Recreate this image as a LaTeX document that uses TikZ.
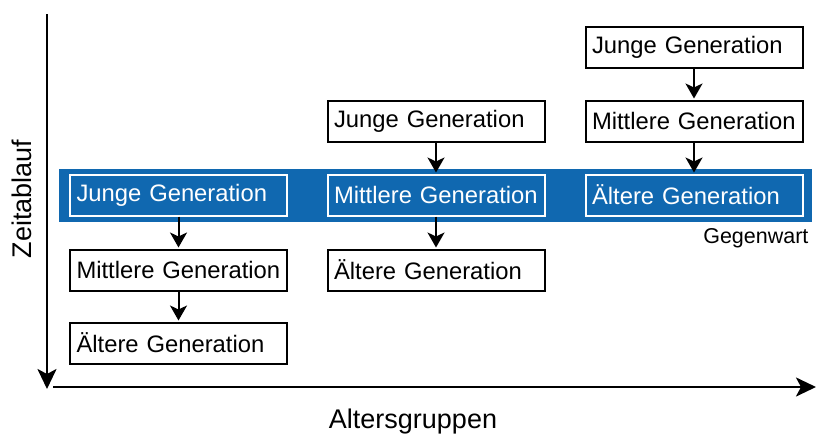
\documentclass[tikz,border=0pt]{standalone}
\usepackage{fontspec}
\setmainfont{Liberation Sans}
\usetikzlibrary{arrows.meta}
\definecolor{zeitblau}{RGB}{16,104,176}
\tikzset{
 gen/.style={draw=black,line width=2pt,fill=white,minimum height=41pt,
  text width=204pt,inner xsep=6.5pt,inner ysep=6pt,align=left,font=\fontsize{23.8}{28}\selectfont},
 genblau/.style={gen,draw=white,fill=zeitblau,text=white},
 pfeil/.style={line width=2pt,shorten >=1pt,-{Stealth[length=15pt,width=17pt,inset=4pt]}},
 achse/.style={line width=2.6pt,-{Stealth[length=20pt,width=19pt,inset=5pt]}},
 beschriftung/.style={font=\fontsize{27}{32}\selectfont}
}
\begin{document}
\begin{tikzpicture}[x=1pt,y=-1pt]
 \useasboundingbox (0,0) rectangle (817,440);
 % Gegenwart
 \fill [zeitblau] (59,169) rectangle (812,222);
 \node [anchor=base east,font=\fontsize{21.5}{26}\selectfont] (gegenwart) at (812,243) {Gegenwart};
 % Achsen
 \coordinate (oben) at (47,14);
 \coordinate (unten) at (47,389);
 \coordinate (links) at (53,387);
 \coordinate (rechts) at (816,387);
 \draw [achse] (oben) -- (unten);
 \draw [achse] (links) -- (rechts);
 \node [beschriftung,rotate=90] (zeitablauf) at (22,199) {Zeitablauf};
 \node [beschriftung] (altersgruppen) at (413,422) {Altersgruppen};
 % erste Spalte
 \node [genblau] (jung1) at (178.5,195) {Junge Generation};
 \node [gen] (mittel1) at (178.5,270) {Mittlere Generation};
 \node [gen] (alt1) at (178.5,343) {Ältere Generation};
 \draw [pfeil] (jung1) -- (mittel1);
 \draw [pfeil] (mittel1) -- (alt1);
 % zweite Spalte
 \node [gen] (jung2) at (436,121) {Junge Generation};
 \node [genblau] (mittel2) at (436,195) {Mittlere Generation};
 \node [gen] (alt2) at (436,270) {Ältere Generation};
 \draw [pfeil] (jung2) -- (mittel2);
 \draw [pfeil] (mittel2) -- (alt2);
 % dritte Spalte
 \node [gen] (jung3) at (694,47.5) {Junge Generation};
 \node [gen] (mittel3) at (694,121) {Mittlere Generation};
 \node [genblau] (alt3) at (694,195) {Ältere Generation};
 \draw [pfeil] (jung3) -- (mittel3);
 \draw [pfeil] (mittel3) -- (alt3);
\end{tikzpicture}
\end{document}
